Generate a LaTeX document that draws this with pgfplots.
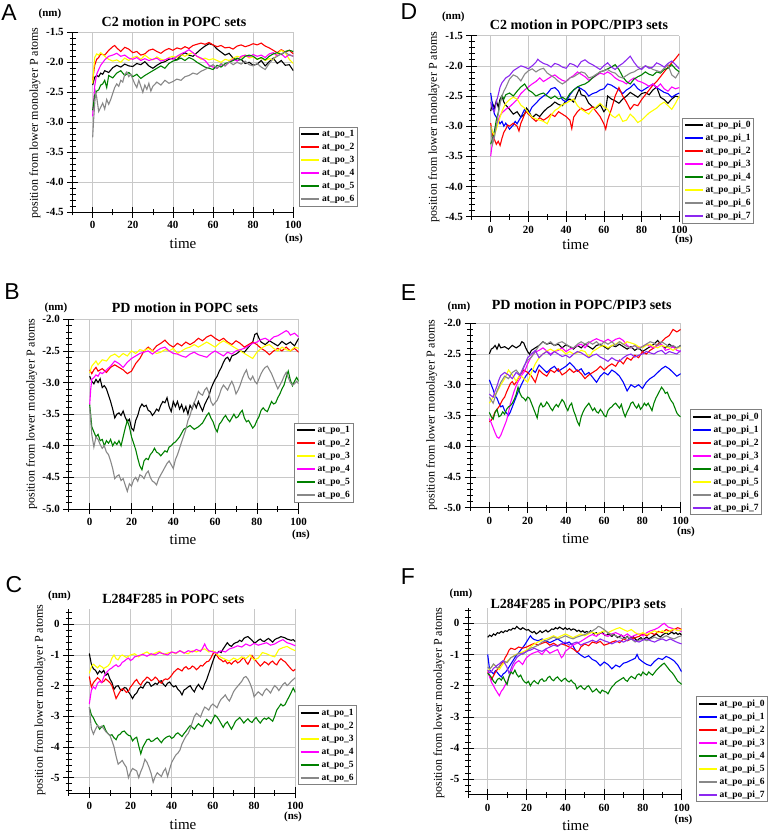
\documentclass[border=0pt]{standalone}
\usepackage{fontspec}
\setmainfont{Liberation Serif}
\newfontfamily\arialfont{Liberation Sans}
\usepackage{pgfplots}
\pgfplotsset{compat=1.18}
\definecolor{cblack}{RGB}{0,0,0}
\definecolor{cred}{RGB}{255,0,0}
\definecolor{cyel}{RGB}{255,255,0}
\definecolor{cmag}{RGB}{255,0,255}
\definecolor{cgreen}{RGB}{0,128,0}
\definecolor{cgray}{RGB}{136,136,136}
\definecolor{cblue}{RGB}{0,0,255}
\definecolor{cpurp}{RGB}{140,40,240}
\definecolor{gridc}{RGB}{200,200,200}
\pgfplotsset{
 panel/.style={
  scale only axis,
  xmin=-10, xmax=100,
  axis x line*=bottom, axis y line*=left,
  axis line style={-, line width=0.8pt, black},
  xtick={0,20,...,100},
  minor xtick={-10,10,30,50,70,90},
  tick align=center,
  major tick length=11pt, minor tick length=6pt,
  tick style={black, line width=0.7pt},
  grid=major,
  major grid style={gridc, line width=0.6pt},
  ticklabel style={font=\bfseries\fontsize{11}{11}\selectfont},
  /pgf/number format/assume math mode=true,
  every axis plot/.append style={line width=1.1pt},
  legend cell align=left,
  legend image code/.code={\draw[##1, line width=1.7pt] (0pt,0pt) -- (18pt,0pt);},
  legend style={draw=gray, line width=0.6pt, fill=white,
    font=\bfseries\fontsize{9.5}{10}\selectfont,
    inner xsep=1.5pt, inner ysep=0.5pt, row sep=0pt, column sep=0.5pt,
    nodes={inner ysep=1pt, inner xsep=1.5pt, text height=8pt, text depth=3pt}},
 },
 dec/.style={yticklabel style={/pgf/number format/.cd, fixed, fixed zerofill, precision=1}},
}
\newcommand\ttl[1]{{\bfseries\fontsize{14}{14}\selectfont #1}}
\begin{document}
\begin{tikzpicture}[x=1pt,y=1pt]
\path[use as bounding box] (0,0) rectangle (771,833);

% ---------------- A ----------------
\begin{axis}[panel, dec, at={(72.6pt,620.7pt)}, anchor=south west, width=220.7pt, height=180pt,
 ymin=-4.5, ymax=-1.5, ytick={-4.5,-4,...,-1.5}, minor ytick={-4.4,-4.3,...,-1.6},
 legend style={at={(1.024,0.0328)}, anchor=south west}]
\addplot[cblack] coordinates {(0,-2.38)(1,-2.25)(2,-2.22)(3,-2.24)(4,-2.18)(5,-2.2)(6,-2.14)(8,-2.17)(10,-2.09)(12,-2.05)(14,-2.08)(16,-2.03)(18,-2.06)(20,-2.07)(22,-2.02)(24,-2.04)(26,-1.99)(28,-2.06)(30,-2.1)(32,-2.05)(34,-2.01)(36,-1.99)(38,-1.95)(40,-1.93)(42,-1.96)(44,-1.88)(46,-1.84)(48,-1.88)(50,-1.9)(52,-1.84)(54,-1.78)(56,-1.73)(58,-1.69)(60,-1.71)(62,-1.78)(64,-1.83)(66,-1.88)(68,-1.85)(70,-1.93)(72,-1.97)(74,-1.95)(76,-2.02)(78,-2.0)(80,-2.05)(82,-2.03)(84,-1.97)(86,-2.06)(88,-1.99)(90,-1.93)(92,-2.02)(94,-1.97)(96,-2.05)(98,-2.04)(100,-2.14)};
\addlegendentry{at\_po\_1}
\addplot[cred] coordinates {(0,-2.3)(1,-2.05)(2,-1.95)(3,-1.92)(4,-1.86)(6,-1.88)(8,-1.8)(10,-1.74)(11,-1.72)(12,-1.76)(14,-1.82)(16,-1.75)(18,-1.78)(20,-1.84)(22,-1.82)(24,-1.88)(26,-1.86)(28,-1.8)(30,-1.78)(32,-1.82)(34,-1.85)(36,-1.8)(38,-1.77)(40,-1.8)(42,-1.76)(44,-1.78)(46,-1.74)(48,-1.77)(50,-1.72)(52,-1.7)(54,-1.68)(56,-1.7)(58,-1.67)(60,-1.71)(62,-1.74)(64,-1.72)(66,-1.76)(68,-1.75)(70,-1.78)(72,-1.73)(74,-1.71)(76,-1.74)(78,-1.72)(80,-1.69)(82,-1.71)(84,-1.68)(86,-1.73)(88,-1.76)(90,-1.8)(92,-1.84)(94,-1.79)(96,-1.83)(98,-1.8)(100,-1.86)};
\addlegendentry{at\_po\_2}
\addplot[cyel] coordinates {(0,-2.35)(1,-1.92)(2,-1.86)(3,-1.88)(4,-1.84)(6,-1.9)(8,-1.95)(10,-1.98)(12,-1.96)(14,-2.0)(16,-1.93)(18,-1.97)(20,-1.92)(22,-1.9)(24,-1.95)(26,-1.88)(28,-1.93)(30,-1.96)(32,-1.91)(34,-1.95)(36,-1.97)(38,-1.92)(40,-1.9)(42,-1.92)(44,-1.87)(46,-1.9)(48,-1.86)(50,-1.84)(52,-1.9)(54,-1.95)(56,-1.93)(58,-1.96)(60,-1.94)(62,-1.97)(64,-2.0)(66,-1.95)(68,-1.97)(70,-1.93)(72,-1.9)(74,-1.92)(76,-1.88)(78,-1.93)(80,-1.91)(82,-1.95)(84,-1.93)(86,-1.97)(88,-1.94)(90,-1.96)(92,-1.86)(94,-1.8)(96,-1.84)(98,-1.95)(100,-2.02)};
\addlegendentry{at\_po\_3}
\addplot[cmag] coordinates {(0,-2.9)(1,-2.4)(2,-2.2)(3,-2.12)(4,-2.05)(6,-1.96)(8,-1.9)(10,-1.88)(12,-1.85)(14,-1.9)(16,-1.88)(18,-1.93)(20,-1.95)(22,-1.92)(24,-1.97)(26,-1.94)(28,-1.97)(30,-1.95)(32,-1.93)(34,-1.98)(36,-1.96)(38,-1.93)(40,-1.95)(42,-1.9)(44,-1.86)(46,-1.83)(48,-1.79)(50,-1.84)(52,-1.9)(54,-1.93)(56,-1.97)(58,-2.05)(60,-2.08)(62,-2.1)(64,-2.04)(66,-2.06)(68,-2.0)(70,-1.95)(72,-1.98)(74,-1.9)(76,-1.88)(78,-1.91)(80,-1.87)(82,-1.9)(84,-1.88)(86,-1.92)(88,-1.86)(90,-1.84)(92,-1.89)(94,-1.86)(96,-1.92)(98,-1.87)(100,-1.9)};
\addlegendentry{at\_po\_4}
\addplot[cgreen] coordinates {(0,-2.8)(1,-2.55)(2,-2.48)(3,-2.46)(4,-2.38)(5,-2.36)(6,-2.3)(7,-2.42)(8,-2.22)(10,-2.26)(12,-2.18)(14,-2.14)(16,-2.22)(18,-2.17)(20,-2.24)(22,-2.2)(24,-2.27)(26,-2.22)(28,-2.18)(30,-2.14)(32,-2.1)(34,-2.06)(36,-2.1)(38,-2.02)(40,-1.98)(42,-1.96)(44,-1.93)(46,-1.97)(48,-1.92)(50,-1.95)(52,-2.0)(54,-2.04)(56,-2.08)(58,-2.1)(60,-2.12)(62,-2.05)(64,-2.08)(66,-2.02)(68,-2.0)(70,-1.97)(72,-1.93)(74,-1.96)(76,-1.9)(78,-1.88)(80,-1.9)(82,-1.95)(84,-1.92)(86,-1.96)(88,-1.9)(90,-1.86)(92,-1.84)(94,-1.87)(96,-1.82)(98,-1.8)(100,-1.82)};
\addlegendentry{at\_po\_5}
\addplot[cgray] coordinates {(0,-3.25)(0.5,-2.95)(1,-2.7)(1.5,-2.5)(2,-2.58)(3,-2.82)(4,-2.75)(5,-2.68)(6,-2.78)(7,-2.62)(8,-2.7)(9,-2.62)(10,-2.52)(11,-2.42)(12,-2.36)(13,-2.4)(14,-2.3)(15,-2.33)(16,-2.2)(17,-2.16)(18,-2.24)(19,-2.2)(20,-2.28)(21,-2.36)(22,-2.42)(23,-2.3)(24,-2.4)(25,-2.5)(26,-2.38)(27,-2.45)(28,-2.35)(29,-2.48)(30,-2.4)(32,-2.33)(34,-2.38)(36,-2.3)(38,-2.35)(40,-2.32)(42,-2.28)(44,-2.3)(46,-2.24)(48,-2.22)(50,-2.18)(52,-2.2)(54,-2.15)(56,-2.12)(58,-2.08)(60,-2.04)(62,-2.1)(64,-2.02)(66,-2.06)(68,-1.99)(70,-2.04)(72,-2.0)(74,-2.03)(76,-1.98)(78,-2.04)(80,-2.06)(82,-2.02)(84,-2.08)(86,-2.12)(88,-2.02)(90,-1.94)(92,-1.9)(94,-1.86)(96,-1.83)(98,-1.88)(100,-1.9)};
\addlegendentry{at\_po\_6}
\end{axis}

% ---------------- D ----------------
\begin{axis}[panel, dec, at={(471.8pt,616.3pt)}, anchor=south west, width=207.5pt, height=181pt,
 ymin=-4.5, ymax=-1.5, ytick={-4.5,-4,...,-1.5}, minor ytick={-4.4,-4.3,...,-1.6},
 legend style={at={(1.014,-0.0372)}, anchor=south west}]
\addplot[cblack] coordinates {(0,-2.75)(1,-2.62)(2,-2.7)(3,-2.58)(4,-2.68)(5,-2.55)(6,-2.5)(7,-2.6)(8,-2.65)(10,-2.72)(12,-2.8)(14,-2.76)(16,-2.85)(18,-2.8)(19,-2.7)(20,-2.74)(22,-2.86)(24,-2.8)(26,-2.84)(28,-2.76)(30,-2.7)(32,-2.66)(34,-2.6)(36,-2.64)(38,-2.66)(40,-2.58)(42,-2.55)(44,-2.6)(46,-2.45)(47,-2.38)(48,-2.48)(50,-2.5)(52,-2.62)(54,-2.68)(56,-2.7)(58,-2.64)(60,-2.76)(61,-2.72)(62,-2.5)(64,-2.55)(66,-2.58)(68,-2.62)(70,-2.55)(72,-2.5)(74,-2.44)(76,-2.48)(78,-2.52)(80,-2.46)(82,-2.44)(84,-2.48)(86,-2.4)(88,-2.35)(90,-2.52)(92,-2.56)(94,-2.62)(96,-2.55)(98,-2.5)(100,-2.52)};
\addlegendentry{at\_po\_pi\_0}
\addplot[cblue] coordinates {(0,-2.45)(1,-2.65)(2,-2.8)(4,-2.9)(5,-2.96)(6,-2.92)(7,-3.0)(8,-2.95)(10,-3.05)(12,-2.98)(13,-2.92)(14,-2.96)(16,-2.85)(18,-2.72)(20,-2.8)(22,-2.68)(24,-2.62)(26,-2.55)(28,-2.5)(30,-2.46)(32,-2.38)(34,-2.36)(36,-2.42)(38,-2.56)(40,-2.6)(42,-2.48)(44,-2.4)(46,-2.35)(48,-2.38)(50,-2.42)(52,-2.5)(54,-2.46)(56,-2.44)(58,-2.4)(60,-2.38)(62,-2.3)(64,-2.32)(66,-2.36)(68,-2.4)(70,-2.46)(72,-2.4)(74,-2.36)(76,-2.3)(78,-2.38)(80,-2.42)(82,-2.38)(84,-2.34)(86,-2.3)(88,-2.36)(90,-2.4)(92,-2.44)(94,-2.46)(96,-2.52)(98,-2.48)(100,-2.45)};
\addlegendentry{at\_po\_pi\_1}
\addplot[cred] coordinates {(0,-2.95)(1,-3.15)(2,-3.22)(3,-3.3)(4,-3.25)(5,-3.32)(6,-3.2)(7,-3.1)(8,-3.05)(9,-2.98)(10,-3.0)(12,-2.95)(14,-3.0)(15,-3.08)(16,-2.95)(17,-2.88)(18,-2.8)(19,-2.75)(20,-2.8)(22,-2.86)(24,-2.92)(26,-2.86)(28,-2.9)(30,-2.86)(32,-2.8)(34,-2.84)(36,-2.76)(38,-2.8)(40,-2.84)(42,-2.9)(43,-3.04)(44,-2.85)(46,-2.76)(48,-2.7)(50,-2.74)(52,-2.72)(54,-2.68)(56,-2.76)(58,-2.84)(60,-2.96)(61,-3.05)(62,-2.9)(64,-2.72)(66,-2.5)(68,-2.36)(70,-2.5)(72,-2.6)(74,-2.72)(76,-2.64)(78,-2.66)(80,-2.56)(82,-2.48)(84,-2.4)(86,-2.32)(88,-2.26)(90,-2.18)(92,-2.1)(94,-2.02)(96,-1.95)(98,-1.88)(100,-1.8)};
\addlegendentry{at\_po\_pi\_2}
\addplot[cmag] coordinates {(0,-3.5)(1,-3.25)(2,-3.1)(3,-2.98)(4,-2.9)(5,-2.82)(6,-2.78)(8,-2.72)(10,-2.68)(12,-2.62)(14,-2.56)(16,-2.46)(18,-2.4)(20,-2.35)(22,-2.3)(24,-2.26)(26,-2.2)(28,-2.26)(30,-2.22)(32,-2.18)(34,-2.15)(36,-2.2)(38,-2.24)(40,-2.26)(42,-2.2)(44,-2.16)(46,-2.1)(48,-2.14)(50,-2.18)(52,-2.24)(54,-2.2)(56,-2.16)(58,-2.12)(60,-2.14)(62,-2.1)(64,-2.14)(66,-2.2)(68,-2.24)(70,-2.26)(72,-2.3)(74,-2.24)(76,-2.2)(78,-2.25)(80,-2.27)(82,-2.3)(84,-2.34)(86,-2.3)(88,-2.36)(90,-2.3)(92,-2.38)(94,-2.42)(96,-2.35)(98,-2.38)(100,-2.36)};
\addlegendentry{at\_po\_pi\_3}
\addplot[cgreen] coordinates {(0,-3.3)(1,-3.2)(2,-3.08)(3,-2.9)(4,-2.78)(5,-2.6)(6,-2.5)(7,-2.55)(8,-2.48)(10,-2.45)(12,-2.5)(14,-2.42)(16,-2.35)(18,-2.3)(20,-2.4)(22,-2.44)(24,-2.5)(26,-2.47)(28,-2.45)(30,-2.5)(32,-2.54)(34,-2.5)(36,-2.55)(38,-2.52)(40,-2.56)(42,-2.46)(44,-2.4)(46,-2.35)(48,-2.32)(50,-2.3)(52,-2.26)(54,-2.2)(56,-2.15)(58,-2.1)(60,-2.08)(62,-2.05)(64,-2.02)(66,-1.98)(68,-2.06)(70,-2.18)(72,-2.26)(74,-2.3)(76,-2.22)(78,-2.18)(80,-2.15)(82,-2.1)(84,-2.14)(86,-2.16)(88,-2.1)(90,-2.12)(92,-2.06)(94,-2.04)(96,-1.98)(98,-2.05)(100,-2.1)};
\addlegendentry{at\_po\_pi\_4}
\addplot[cyel] coordinates {(0,-3.0)(1,-3.1)(2,-3.15)(3,-3.05)(4,-2.95)(5,-2.85)(6,-2.75)(8,-2.62)(10,-2.56)(12,-2.52)(14,-2.55)(16,-2.65)(18,-2.7)(20,-2.78)(22,-2.85)(24,-2.88)(26,-2.9)(28,-2.92)(30,-2.96)(32,-2.82)(34,-2.74)(36,-2.7)(38,-2.64)(40,-2.62)(42,-2.58)(44,-2.55)(46,-2.66)(48,-2.72)(50,-2.76)(52,-2.8)(54,-2.72)(56,-2.68)(58,-2.62)(60,-2.68)(62,-2.72)(64,-2.82)(66,-2.86)(68,-2.8)(70,-2.92)(72,-2.9)(74,-2.8)(76,-2.86)(78,-2.94)(80,-2.9)(82,-2.84)(84,-2.78)(86,-2.74)(88,-2.7)(90,-2.64)(92,-2.6)(94,-2.66)(96,-2.72)(98,-2.62)(100,-2.5)};
\addlegendentry{at\_po\_pi\_5}
\addplot[cgray] coordinates {(0,-3.0)(1,-3.3)(2,-3.18)(3,-3.0)(4,-2.8)(5,-2.62)(6,-2.5)(7,-2.42)(8,-2.36)(10,-2.22)(12,-2.15)(14,-2.18)(16,-2.25)(18,-2.14)(20,-2.08)(22,-2.05)(24,-2.1)(26,-2.06)(28,-2.04)(30,-2.12)(32,-2.16)(34,-2.2)(36,-2.26)(38,-2.3)(40,-2.26)(42,-2.2)(44,-2.18)(46,-2.14)(48,-2.1)(50,-2.12)(52,-2.2)(54,-2.18)(56,-2.14)(58,-2.1)(60,-2.08)(62,-2.06)(64,-2.1)(66,-2.12)(68,-2.18)(70,-2.2)(72,-2.16)(74,-2.12)(76,-2.1)(78,-2.06)(80,-2.04)(82,-2.0)(84,-2.02)(86,-2.06)(88,-2.08)(90,-2.1)(92,-2.04)(94,-1.98)(96,-2.15)(98,-2.2)(100,-2.1)};
\addlegendentry{at\_po\_pi\_6}
\addplot[cpurp] coordinates {(0,-2.6)(1,-2.72)(2,-2.76)(3,-2.6)(4,-2.48)(5,-2.35)(6,-2.28)(7,-2.24)(8,-2.2)(10,-2.16)(12,-2.08)(14,-2.04)(16,-2.0)(18,-2.02)(20,-2.05)(22,-2.0)(24,-1.94)(25,-1.89)(26,-1.92)(28,-1.96)(30,-1.98)(32,-2.02)(34,-1.96)(36,-1.98)(38,-2.02)(40,-2.04)(42,-1.96)(44,-1.98)(46,-2.02)(48,-1.93)(50,-1.9)(52,-1.95)(54,-1.98)(56,-2.02)(58,-2.06)(60,-2.0)(62,-1.95)(64,-2.02)(66,-2.06)(68,-2.0)(70,-1.96)(72,-1.9)(74,-1.84)(76,-1.94)(78,-2.02)(80,-2.06)(82,-2.0)(84,-2.04)(86,-2.02)(88,-1.95)(90,-1.98)(92,-2.02)(94,-1.96)(96,-1.92)(98,-1.98)(100,-2.05)};
\addlegendentry{at\_po\_pi\_7}
\end{axis}

% ---------------- B ----------------
\begin{axis}[panel, dec, at={(68.8pt,324pt)}, anchor=south west, width=229.9pt, height=189.7pt,
 ymin=-5, ymax=-2, ytick={-5,-4.5,...,-2}, minor ytick={-4.9,-4.8,...,-2.1},
 legend style={at={(0.98,0.0346)}, anchor=south west}]
\addplot[cblack] coordinates {(0,-2.9)(1,-2.98)(2,-3.02)(3,-2.95)(4,-3.0)(5,-2.94)(6,-3.08)(7,-3.05)(8,-3.1)(9,-3.2)(10,-3.3)(11,-3.42)(12,-3.56)(13,-3.5)(14,-3.48)(15,-3.52)(16,-3.45)(17,-3.55)(18,-3.62)(19,-3.58)(20,-3.72)(21,-3.76)(22,-3.6)(23,-3.52)(24,-3.4)(25,-3.34)(26,-3.38)(27,-3.36)(28,-3.44)(29,-3.46)(30,-3.52)(31,-3.48)(32,-3.42)(33,-3.45)(34,-3.36)(35,-3.3)(36,-3.32)(37,-3.24)(38,-3.38)(39,-3.46)(40,-3.3)(41,-3.38)(42,-3.3)(43,-3.42)(44,-3.35)(45,-3.46)(46,-3.38)(47,-3.5)(48,-3.36)(49,-3.42)(50,-3.32)(51,-3.4)(52,-3.3)(53,-3.38)(54,-3.45)(55,-3.35)(56,-3.28)(57,-3.22)(58,-3.1)(59,-3.02)(60,-2.95)(61,-2.9)(62,-2.82)(63,-2.76)(64,-2.68)(65,-2.62)(66,-2.6)(67,-2.66)(68,-2.58)(70,-2.55)(72,-2.5)(74,-2.52)(76,-2.44)(78,-2.36)(79,-2.24)(80,-2.22)(81,-2.3)(82,-2.36)(84,-2.4)(86,-2.34)(88,-2.38)(90,-2.42)(92,-2.35)(94,-2.4)(96,-2.36)(98,-2.42)(100,-2.3)};
\addlegendentry{at\_po\_1}
\addplot[cred] coordinates {(0,-2.8)(1,-2.86)(2,-2.8)(3,-2.76)(4,-2.82)(6,-2.78)(8,-2.84)(10,-2.76)(12,-2.72)(14,-2.76)(16,-2.8)(18,-2.86)(20,-2.82)(22,-2.7)(24,-2.62)(26,-2.5)(28,-2.44)(30,-2.5)(32,-2.42)(34,-2.38)(36,-2.33)(38,-2.4)(40,-2.44)(42,-2.38)(44,-2.42)(46,-2.36)(48,-2.4)(50,-2.36)(52,-2.3)(54,-2.34)(56,-2.28)(58,-2.25)(60,-2.3)(62,-2.34)(64,-2.3)(66,-2.36)(68,-2.4)(70,-2.34)(72,-2.38)(74,-2.44)(76,-2.4)(78,-2.36)(80,-2.4)(82,-2.46)(84,-2.5)(86,-2.56)(88,-2.5)(90,-2.46)(92,-2.5)(94,-2.44)(96,-2.5)(98,-2.46)(100,-2.52)};
\addlegendentry{at\_po\_2}
\addplot[cyel] coordinates {(0,-2.85)(1,-2.74)(2,-2.7)(3,-2.66)(4,-2.72)(6,-2.64)(8,-2.66)(10,-2.58)(12,-2.55)(14,-2.6)(16,-2.54)(18,-2.58)(20,-2.5)(22,-2.54)(24,-2.48)(26,-2.5)(28,-2.46)(30,-2.5)(32,-2.54)(34,-2.52)(36,-2.48)(38,-2.5)(40,-2.46)(42,-2.54)(44,-2.5)(46,-2.46)(48,-2.44)(50,-2.4)(52,-2.44)(54,-2.4)(56,-2.36)(58,-2.4)(60,-2.44)(62,-2.38)(64,-2.34)(66,-2.38)(68,-2.42)(70,-2.46)(72,-2.5)(74,-2.54)(76,-2.58)(78,-2.62)(80,-2.52)(82,-2.46)(84,-2.42)(86,-2.4)(88,-2.46)(90,-2.5)(92,-2.44)(94,-2.48)(96,-2.5)(98,-2.44)(100,-2.46)};
\addlegendentry{at\_po\_3}
\addplot[cmag] coordinates {(0,-3.35)(0.5,-3.1)(1,-2.95)(2,-2.92)(3,-2.88)(4,-2.9)(5,-2.84)(6,-2.86)(8,-2.8)(10,-2.74)(12,-2.66)(14,-2.7)(16,-2.76)(18,-2.68)(20,-2.62)(22,-2.58)(24,-2.54)(26,-2.52)(28,-2.5)(30,-2.55)(32,-2.5)(34,-2.46)(36,-2.44)(38,-2.5)(40,-2.54)(42,-2.55)(44,-2.58)(46,-2.6)(48,-2.55)(50,-2.52)(52,-2.56)(54,-2.58)(56,-2.6)(58,-2.54)(60,-2.5)(62,-2.54)(64,-2.58)(66,-2.52)(68,-2.55)(70,-2.5)(72,-2.48)(74,-2.46)(76,-2.42)(78,-2.38)(80,-2.36)(82,-2.32)(84,-2.3)(86,-2.34)(88,-2.28)(90,-2.26)(92,-2.22)(94,-2.18)(95,-2.2)(96,-2.25)(98,-2.22)(100,-2.28)};
\addlegendentry{at\_po\_4}
\addplot[cgreen] coordinates {(0,-3.35)(1,-3.7)(2,-3.78)(3,-3.86)(4,-3.82)(5,-3.92)(6,-3.9)(7,-4.0)(8,-3.92)(9,-3.96)(10,-3.9)(11,-4.0)(12,-3.94)(13,-3.98)(14,-3.92)(15,-4.0)(16,-3.86)(17,-3.72)(18,-3.6)(19,-3.7)(20,-3.86)(21,-3.96)(22,-4.06)(23,-4.2)(24,-4.32)(25,-4.38)(26,-4.24)(27,-4.2)(28,-4.22)(29,-4.14)(30,-4.1)(31,-4.04)(32,-4.1)(33,-4.12)(34,-4.16)(35,-4.12)(36,-4.08)(37,-4.1)(38,-4.02)(39,-4.0)(40,-3.96)(41,-3.94)(42,-3.9)(43,-3.86)(44,-3.8)(45,-3.74)(46,-3.72)(48,-3.68)(50,-3.74)(52,-3.7)(54,-3.64)(55,-3.58)(56,-3.52)(57,-3.48)(58,-3.56)(59,-3.62)(60,-3.72)(61,-3.78)(62,-3.66)(63,-3.62)(64,-3.56)(65,-3.52)(66,-3.58)(67,-3.62)(68,-3.56)(69,-3.5)(70,-3.56)(71,-3.54)(72,-3.48)(73,-3.44)(74,-3.56)(75,-3.62)(76,-3.6)(77,-3.66)(78,-3.72)(79,-3.68)(80,-3.6)(81,-3.54)(82,-3.44)(83,-3.4)(84,-3.44)(85,-3.46)(86,-3.38)(87,-3.3)(88,-3.34)(89,-3.32)(90,-3.24)(91,-3.18)(92,-3.1)(93,-3.04)(94,-2.92)(95,-2.82)(96,-2.96)(97,-3.05)(98,-2.98)(99,-2.92)(100,-2.98)};
\addlegendentry{at\_po\_5}
\addplot[cgray] coordinates {(0,-3.4)(1,-3.82)(2,-4.02)(3,-3.86)(4,-3.9)(5,-3.98)(6,-4.04)(7,-4.0)(8,-4.1)(9,-4.14)(10,-4.24)(11,-4.36)(12,-4.52)(13,-4.48)(14,-4.46)(15,-4.55)(16,-4.52)(17,-4.62)(18,-4.72)(19,-4.6)(20,-4.64)(21,-4.54)(22,-4.5)(23,-4.56)(24,-4.46)(25,-4.48)(26,-4.52)(27,-4.44)(28,-4.4)(29,-4.5)(30,-4.56)(31,-4.58)(32,-4.62)(33,-4.52)(34,-4.46)(35,-4.4)(36,-4.34)(37,-4.28)(38,-4.24)(39,-4.3)(40,-4.36)(41,-4.22)(42,-4.14)(43,-4.04)(44,-3.94)(45,-3.84)(46,-3.74)(47,-3.6)(48,-3.52)(49,-3.4)(50,-3.32)(51,-3.24)(52,-3.14)(53,-3.18)(54,-3.2)(55,-3.12)(56,-3.08)(57,-3.16)(58,-3.3)(59,-3.36)(60,-3.32)(61,-3.28)(62,-3.2)(63,-3.1)(64,-3.04)(65,-3.08)(66,-3.12)(67,-3.04)(68,-2.98)(69,-3.06)(70,-3.18)(71,-3.12)(72,-3.04)(73,-2.94)(74,-2.86)(75,-2.8)(76,-2.92)(77,-2.96)(78,-2.9)(79,-2.98)(80,-3.02)(81,-2.94)(82,-2.86)(83,-2.8)(84,-2.76)(85,-2.74)(86,-2.8)(87,-2.86)(88,-2.94)(89,-3.02)(90,-3.1)(91,-3.04)(92,-2.98)(93,-2.9)(94,-2.84)(95,-2.92)(96,-3.0)(97,-3.04)(98,-3.02)(99,-2.98)(100,-3.02)};
\addlegendentry{at\_po\_6}
\end{axis}

% ---------------- E ----------------
\begin{axis}[panel, dec, at={(470.2pt,325.3pt)}, anchor=south west, width=210.5pt, height=184.4pt,
 ymin=-5, ymax=-2, ytick={-5,-4.5,...,-2}, minor ytick={-4.9,-4.8,...,-2.1},
 legend style={at={(1.045,-0.04)}, anchor=south west}]
\addplot[cblack] coordinates {(0,-2.5)(1,-2.42)(2,-2.4)(3,-2.36)(4,-2.42)(5,-2.34)(6,-2.4)(8,-2.38)(10,-2.42)(12,-2.36)(14,-2.4)(16,-2.36)(17,-2.3)(18,-2.32)(19,-2.4)(20,-2.46)(21,-2.5)(22,-2.44)(24,-2.4)(26,-2.36)(28,-2.3)(30,-2.34)(32,-2.32)(34,-2.36)(36,-2.34)(38,-2.4)(40,-2.35)(42,-2.38)(44,-2.42)(46,-2.36)(48,-2.4)(50,-2.34)(52,-2.38)(54,-2.42)(56,-2.36)(58,-2.34)(60,-2.38)(62,-2.42)(64,-2.36)(66,-2.38)(68,-2.34)(70,-2.38)(72,-2.42)(74,-2.38)(76,-2.44)(78,-2.4)(80,-2.46)(82,-2.42)(84,-2.38)(86,-2.34)(88,-2.28)(90,-2.36)(92,-2.4)(94,-2.34)(96,-2.38)(98,-2.4)(100,-2.36)};
\addlegendentry{at\_po\_pi\_0}
\addplot[cblue] coordinates {(0,-2.92)(1,-3.0)(2,-3.08)(3,-3.18)(4,-3.22)(5,-3.3)(6,-3.36)(7,-3.34)(8,-3.42)(9,-3.46)(10,-3.5)(11,-3.44)(12,-3.36)(13,-3.28)(14,-3.2)(15,-3.12)(16,-3.05)(17,-2.98)(18,-2.92)(19,-2.86)(20,-2.82)(22,-2.74)(24,-2.8)(26,-2.68)(28,-2.74)(30,-2.8)(32,-2.74)(34,-2.7)(36,-2.78)(38,-2.74)(40,-2.7)(42,-2.64)(44,-2.7)(46,-2.78)(48,-2.74)(50,-2.84)(52,-2.8)(54,-2.88)(56,-2.96)(58,-2.86)(60,-2.8)(62,-2.84)(64,-2.76)(66,-2.8)(68,-2.86)(70,-2.96)(72,-3.1)(74,-3.0)(76,-3.04)(78,-3.0)(80,-3.06)(82,-2.96)(84,-2.9)(86,-2.86)(88,-2.8)(90,-2.74)(92,-2.7)(94,-2.74)(96,-2.8)(98,-2.86)(100,-2.82)};
\addlegendentry{at\_po\_pi\_1}
\addplot[cred] coordinates {(0,-3.6)(1,-3.58)(2,-3.52)(3,-3.44)(4,-3.4)(5,-3.36)(6,-3.3)(7,-3.24)(8,-3.2)(9,-3.12)(10,-3.05)(11,-2.98)(12,-2.95)(13,-3.0)(14,-2.96)(15,-2.9)(16,-2.84)(18,-2.76)(20,-2.8)(22,-2.86)(24,-2.96)(26,-2.76)(28,-2.82)(30,-2.86)(32,-2.76)(34,-2.8)(36,-2.74)(38,-2.84)(40,-2.8)(42,-2.74)(44,-2.8)(46,-2.76)(48,-2.82)(50,-2.9)(52,-2.84)(54,-2.8)(56,-2.76)(58,-2.7)(60,-2.76)(62,-2.7)(64,-2.66)(66,-2.7)(68,-2.6)(70,-2.66)(72,-2.56)(74,-2.6)(76,-2.52)(78,-2.56)(80,-2.46)(82,-2.5)(84,-2.44)(86,-2.4)(88,-2.34)(90,-2.3)(92,-2.24)(94,-2.2)(96,-2.1)(98,-2.14)(100,-2.1)};
\addlegendentry{at\_po\_pi\_2}
\addplot[cmag] coordinates {(0,-3.55)(1,-3.62)(2,-3.7)(3,-3.78)(4,-3.85)(5,-3.87)(6,-3.82)(7,-3.74)(8,-3.66)(9,-3.58)(10,-3.45)(11,-3.3)(12,-3.2)(13,-3.1)(14,-3.02)(15,-2.95)(16,-2.9)(17,-2.84)(18,-2.8)(19,-2.74)(20,-2.66)(21,-2.6)(22,-2.54)(23,-2.5)(24,-2.47)(26,-2.44)(28,-2.4)(30,-2.45)(32,-2.5)(34,-2.46)(36,-2.44)(38,-2.4)(40,-2.46)(42,-2.42)(44,-2.4)(46,-2.36)(48,-2.34)(50,-2.4)(52,-2.32)(54,-2.28)(56,-2.25)(58,-2.28)(60,-2.3)(62,-2.26)(64,-2.3)(66,-2.26)(68,-2.24)(70,-2.28)(72,-2.36)(74,-2.4)(76,-2.36)(78,-2.4)(80,-2.38)(82,-2.34)(84,-2.38)(86,-2.4)(88,-2.36)(90,-2.34)(92,-2.44)(94,-2.42)(96,-2.38)(98,-2.44)(100,-2.46)};
\addlegendentry{at\_po\_pi\_3}
\addplot[cgreen] coordinates {(0,-3.45)(1,-3.52)(2,-3.56)(3,-3.45)(4,-3.4)(5,-3.52)(6,-3.5)(7,-3.44)(8,-3.48)(9,-3.4)(10,-3.36)(11,-3.34)(12,-3.3)(13,-3.24)(14,-3.16)(15,-3.04)(16,-3.14)(17,-3.2)(18,-3.22)(19,-3.26)(20,-3.2)(21,-3.22)(22,-3.3)(23,-3.38)(24,-3.46)(25,-3.54)(26,-3.36)(27,-3.3)(28,-3.36)(29,-3.34)(30,-3.28)(31,-3.32)(32,-3.38)(33,-3.42)(34,-3.36)(35,-3.32)(36,-3.36)(37,-3.3)(38,-3.24)(39,-3.28)(40,-3.36)(41,-3.42)(42,-3.34)(43,-3.3)(44,-3.42)(45,-3.5)(46,-3.6)(47,-3.66)(48,-3.52)(49,-3.44)(50,-3.38)(51,-3.34)(52,-3.3)(53,-3.36)(54,-3.42)(55,-3.38)(56,-3.44)(57,-3.46)(58,-3.4)(59,-3.44)(60,-3.5)(61,-3.52)(62,-3.42)(63,-3.38)(64,-3.36)(65,-3.32)(66,-3.3)(67,-3.34)(68,-3.38)(69,-3.32)(70,-3.44)(71,-3.52)(72,-3.44)(73,-3.38)(74,-3.3)(75,-3.28)(76,-3.34)(77,-3.38)(78,-3.32)(79,-3.4)(80,-3.36)(81,-3.3)(82,-3.34)(83,-3.3)(84,-3.36)(85,-3.42)(86,-3.3)(87,-3.22)(88,-3.16)(89,-3.1)(90,-3.04)(91,-3.08)(92,-3.14)(93,-3.12)(94,-3.2)(95,-3.26)(96,-3.3)(97,-3.38)(98,-3.46)(99,-3.5)(100,-3.52)};
\addlegendentry{at\_po\_pi\_4}
\addplot[cyel] coordinates {(0,-3.3)(2,-3.2)(4,-3.12)(6,-3.0)(8,-2.9)(10,-2.76)(12,-2.84)(14,-2.94)(16,-2.84)(18,-2.9)(20,-2.96)(22,-2.8)(24,-2.66)(26,-2.56)(28,-2.5)(30,-2.45)(32,-2.42)(34,-2.46)(36,-2.42)(38,-2.44)(40,-2.5)(42,-2.46)(44,-2.5)(46,-2.48)(48,-2.44)(50,-2.46)(52,-2.55)(54,-2.46)(56,-2.42)(58,-2.38)(60,-2.36)(62,-2.4)(64,-2.36)(66,-2.34)(68,-2.3)(70,-2.34)(72,-2.3)(74,-2.32)(76,-2.34)(78,-2.38)(80,-2.4)(82,-2.36)(84,-2.34)(86,-2.38)(88,-2.4)(90,-2.36)(92,-2.38)(94,-2.4)(96,-2.44)(98,-2.4)(100,-2.4)};
\addlegendentry{at\_po\_pi\_5}
\addplot[cgray] coordinates {(0,-3.2)(2,-3.3)(4,-3.1)(6,-2.96)(8,-2.86)(10,-2.9)(12,-2.8)(14,-2.76)(16,-2.84)(18,-2.7)(20,-2.6)(22,-2.55)(24,-2.46)(26,-2.36)(28,-2.3)(30,-2.34)(32,-2.3)(34,-2.36)(36,-2.32)(38,-2.3)(40,-2.34)(42,-2.38)(44,-2.4)(46,-2.34)(48,-2.3)(50,-2.34)(52,-2.3)(54,-2.34)(56,-2.3)(58,-2.36)(60,-2.3)(62,-2.34)(64,-2.3)(66,-2.36)(68,-2.3)(70,-2.34)(72,-2.38)(74,-2.4)(76,-2.36)(78,-2.42)(80,-2.38)(82,-2.34)(84,-2.3)(86,-2.32)(88,-2.36)(90,-2.3)(92,-2.34)(94,-2.38)(96,-2.36)(98,-2.4)(100,-2.36)};
\addlegendentry{at\_po\_pi\_6}
\addplot[cpurp] coordinates {(0,-3.15)(1,-3.18)(2,-3.2)(3,-3.1)(4,-3.02)(5,-2.92)(6,-2.85)(8,-2.8)(10,-2.84)(12,-2.9)(14,-2.8)(16,-2.85)(18,-2.72)(20,-2.56)(22,-2.5)(24,-2.44)(26,-2.56)(28,-2.5)(30,-2.46)(32,-2.52)(34,-2.46)(36,-2.5)(38,-2.54)(40,-2.52)(42,-2.56)(44,-2.5)(46,-2.46)(48,-2.48)(50,-2.52)(52,-2.56)(54,-2.52)(56,-2.5)(58,-2.55)(60,-2.58)(62,-2.62)(64,-2.56)(66,-2.6)(68,-2.62)(70,-2.56)(72,-2.52)(74,-2.5)(76,-2.55)(78,-2.52)(80,-2.5)(82,-2.46)(84,-2.48)(86,-2.5)(88,-2.46)(90,-2.44)(92,-2.5)(94,-2.46)(96,-2.48)(98,-2.5)(100,-2.44)};
\addlegendentry{at\_po\_pi\_7}
\end{axis}

% ---------------- C ----------------
\begin{axis}[panel, at={(68.7pt,40pt)}, anchor=south west, width=226.6pt, height=184pt,
 ymin=-5.5, ymax=0.5, ytick={-5,-4,...,0}, minor ytick={-5.4,-5.2,...,0.4},
 legend style={at={(1.012,0.043)}, anchor=south west}]
\addplot[cblack] coordinates {(0,-0.95)(1,-1.3)(2,-1.45)(3,-1.5)(4,-1.62)(5,-1.52)(6,-1.58)(7,-1.5)(8,-1.66)(9,-1.6)(10,-1.78)(11,-1.9)(12,-2.12)(13,-2.02)(14,-2.0)(15,-2.12)(16,-2.16)(17,-2.06)(18,-2.08)(19,-2.2)(20,-2.3)(21,-2.42)(22,-2.3)(23,-2.24)(24,-2.1)(25,-2.04)(26,-2.08)(27,-1.96)(28,-1.88)(29,-1.9)(30,-2.02)(31,-1.98)(32,-1.92)(33,-1.96)(34,-1.86)(35,-1.84)(36,-1.96)(37,-2.02)(38,-1.92)(39,-1.88)(40,-1.98)(41,-2.04)(42,-2.0)(43,-2.12)(44,-2.18)(45,-2.3)(46,-2.14)(47,-2.1)(48,-2.04)(49,-2.0)(50,-2.12)(51,-2.2)(52,-2.05)(53,-1.96)(54,-2.06)(55,-2.12)(56,-1.94)(57,-1.8)(58,-1.6)(59,-1.4)(60,-1.2)(61,-1.02)(62,-0.94)(63,-0.88)(64,-0.92)(65,-0.8)(66,-0.7)(67,-0.6)(68,-0.68)(69,-0.72)(70,-0.64)(71,-0.6)(72,-0.58)(73,-0.52)(74,-0.56)(75,-0.46)(76,-0.42)(77,-0.4)(78,-0.46)(79,-0.52)(80,-0.6)(81,-0.58)(82,-0.52)(83,-0.48)(84,-0.54)(85,-0.56)(86,-0.5)(87,-0.46)(88,-0.52)(89,-0.58)(90,-0.5)(91,-0.46)(92,-0.44)(93,-0.4)(94,-0.42)(95,-0.44)(96,-0.48)(97,-0.5)(98,-0.52)(99,-0.5)(100,-0.56)};
\addlegendentry{at\_po\_1}
\addplot[cred] coordinates {(0,-1.7)(1,-2.05)(2,-1.9)(3,-1.82)(4,-1.74)(5,-1.8)(6,-1.9)(7,-1.86)(8,-1.78)(9,-1.84)(10,-1.9)(11,-2.0)(12,-2.2)(13,-2.42)(14,-2.3)(15,-2.18)(16,-2.1)(17,-2.14)(18,-2.22)(19,-2.18)(20,-2.04)(21,-1.96)(22,-1.86)(23,-1.8)(24,-1.92)(25,-1.98)(26,-1.86)(27,-1.8)(28,-1.72)(29,-1.76)(30,-1.84)(31,-1.8)(32,-1.72)(33,-1.78)(34,-1.88)(35,-1.92)(36,-1.82)(37,-1.78)(38,-1.8)(39,-1.74)(40,-1.66)(41,-1.56)(42,-1.5)(43,-1.44)(44,-1.48)(45,-1.52)(46,-1.42)(47,-1.38)(48,-1.46)(49,-1.44)(50,-1.36)(51,-1.4)(52,-1.48)(53,-1.42)(54,-1.34)(55,-1.36)(56,-1.28)(57,-1.22)(58,-1.2)(59,-1.1)(60,-0.96)(61,-0.9)(62,-1.02)(63,-1.12)(64,-1.16)(65,-1.22)(66,-1.18)(67,-1.28)(68,-1.24)(69,-1.3)(70,-1.22)(71,-1.18)(72,-1.26)(73,-1.22)(74,-1.14)(75,-1.08)(76,-1.22)(77,-1.3)(78,-1.18)(79,-1.02)(80,-1.12)(81,-1.2)(82,-1.28)(83,-1.36)(84,-1.3)(85,-1.22)(86,-1.26)(87,-1.32)(88,-1.24)(89,-1.2)(90,-1.28)(91,-1.32)(92,-1.2)(93,-1.12)(94,-1.18)(95,-1.22)(96,-1.3)(97,-1.38)(98,-1.46)(99,-1.52)(100,-1.46)};
\addlegendentry{at\_po\_2}
\addplot[cyel] coordinates {(0,-1.6)(1,-1.38)(2,-1.3)(3,-1.36)(4,-1.42)(5,-1.34)(6,-1.38)(7,-1.44)(8,-1.4)(9,-1.36)(10,-1.28)(11,-1.1)(12,-1.0)(13,-1.12)(14,-1.16)(15,-1.04)(16,-1.0)(18,-1.08)(20,-1.0)(22,-0.96)(24,-1.06)(26,-0.96)(28,-0.9)(30,-1.0)(32,-0.94)(34,-0.88)(36,-0.98)(38,-0.94)(40,-0.9)(42,-0.96)(44,-0.86)(46,-0.92)(48,-0.96)(50,-0.86)(52,-0.9)(54,-0.84)(56,-0.8)(58,-0.9)(60,-0.86)(62,-0.98)(64,-1.08)(66,-1.14)(68,-1.2)(70,-1.1)(72,-1.16)(74,-1.06)(76,-1.12)(78,-1.0)(80,-1.16)(82,-1.1)(84,-0.92)(86,-0.96)(88,-1.02)(90,-1.06)(92,-0.82)(94,-0.76)(96,-0.72)(98,-0.8)(100,-0.86)};
\addlegendentry{at\_po\_3}
\addplot[cmag] coordinates {(0,-2.6)(1,-2.15)(2,-2.04)(3,-2.1)(4,-1.92)(5,-1.86)(6,-1.9)(7,-1.72)(8,-1.6)(9,-1.52)(10,-1.46)(11,-1.42)(12,-1.36)(13,-1.32)(14,-1.38)(15,-1.34)(16,-1.24)(17,-1.2)(18,-1.14)(19,-1.1)(20,-1.18)(21,-1.14)(22,-1.06)(24,-1.02)(26,-0.98)(28,-1.04)(30,-0.96)(32,-1.0)(34,-0.92)(36,-0.96)(38,-1.0)(40,-0.9)(42,-0.94)(44,-0.86)(46,-0.94)(48,-0.86)(50,-0.9)(52,-0.82)(54,-0.88)(55,-0.78)(56,-0.64)(57,-0.78)(58,-0.86)(60,-0.9)(62,-0.94)(64,-0.86)(66,-0.9)(68,-0.8)(70,-0.76)(72,-0.7)(74,-0.74)(76,-0.64)(78,-0.7)(80,-0.62)(82,-0.68)(84,-0.64)(86,-0.6)(88,-0.68)(90,-0.64)(92,-0.56)(94,-0.5)(96,-0.6)(98,-0.64)(100,-0.7)};
\addlegendentry{at\_po\_4}
\addplot[cgreen] coordinates {(0,-2.7)(1,-2.95)(2,-3.05)(3,-3.2)(4,-3.3)(5,-3.42)(6,-3.34)(7,-3.3)(8,-3.46)(9,-3.56)(10,-3.62)(11,-3.6)(12,-3.7)(13,-3.76)(14,-3.62)(15,-3.58)(16,-3.5)(17,-3.48)(18,-3.56)(19,-3.62)(20,-3.64)(21,-3.8)(22,-3.72)(23,-3.68)(24,-3.96)(25,-4.22)(26,-4.0)(27,-3.88)(28,-3.76)(29,-3.74)(30,-3.82)(31,-3.8)(32,-3.74)(33,-3.7)(34,-3.78)(35,-3.86)(36,-3.76)(37,-3.7)(38,-3.66)(39,-3.64)(40,-3.72)(41,-3.68)(42,-3.58)(43,-3.54)(44,-3.6)(45,-3.66)(46,-3.56)(47,-3.48)(48,-3.38)(49,-3.3)(50,-3.36)(51,-3.42)(52,-3.32)(53,-3.24)(54,-3.3)(55,-3.34)(56,-3.2)(57,-3.1)(58,-3.16)(59,-3.24)(60,-3.1)(61,-2.96)(62,-3.02)(63,-3.12)(64,-3.24)(65,-3.36)(66,-3.24)(67,-3.18)(68,-3.3)(69,-3.42)(70,-3.3)(71,-3.16)(72,-3.1)(73,-3.04)(74,-3.12)(75,-3.22)(76,-3.14)(77,-3.08)(78,-3.16)(79,-3.2)(80,-3.1)(81,-3.04)(82,-3.14)(83,-3.22)(84,-3.12)(85,-3.06)(86,-3.1)(87,-3.04)(88,-3.1)(89,-3.16)(90,-3.0)(91,-2.8)(92,-2.7)(93,-2.6)(94,-2.66)(95,-2.62)(96,-2.48)(97,-2.36)(98,-2.22)(99,-2.08)(100,-2.22)};
\addlegendentry{at\_po\_5}
\addplot[cgray] coordinates {(0,-2.7)(1,-3.4)(2,-3.58)(3,-3.42)(4,-3.3)(5,-3.36)(6,-3.32)(7,-3.4)(8,-3.5)(9,-3.56)(10,-3.62)(11,-3.8)(12,-4.0)(13,-4.3)(14,-4.56)(15,-4.5)(16,-4.44)(17,-4.56)(18,-4.66)(19,-5.0)(20,-4.82)(21,-4.7)(22,-4.74)(23,-4.78)(24,-5.0)(25,-4.8)(26,-4.64)(27,-4.4)(28,-4.5)(29,-4.66)(30,-4.86)(31,-5.15)(32,-4.96)(33,-4.84)(34,-4.9)(35,-4.96)(36,-4.8)(37,-4.7)(38,-4.96)(39,-4.72)(40,-4.5)(41,-4.38)(42,-4.26)(43,-4.2)(44,-4.1)(45,-3.9)(46,-3.76)(47,-3.64)(48,-3.56)(49,-3.4)(50,-3.2)(51,-3.0)(52,-2.9)(53,-2.96)(54,-3.02)(55,-2.84)(56,-2.7)(57,-2.74)(58,-2.8)(59,-2.66)(60,-2.6)(61,-2.66)(62,-2.72)(63,-2.56)(64,-2.44)(65,-2.38)(66,-2.3)(67,-2.42)(68,-2.5)(69,-2.36)(70,-2.2)(71,-2.1)(72,-2.02)(73,-1.94)(74,-1.86)(75,-1.74)(76,-1.7)(77,-1.78)(78,-1.92)(79,-2.1)(80,-2.36)(81,-2.28)(82,-2.2)(83,-2.26)(84,-2.32)(85,-2.18)(86,-2.1)(87,-2.16)(88,-2.24)(89,-2.1)(90,-2.0)(91,-2.06)(92,-2.16)(93,-2.06)(94,-1.96)(95,-1.9)(96,-2.0)(97,-1.94)(98,-1.86)(99,-1.8)(100,-1.74)};
\addlegendentry{at\_po\_6}
\end{axis}

% ---------------- F ----------------
\begin{axis}[panel, at={(468.3pt,38.1pt)}, anchor=south west, width=213.4pt, height=187.2pt,
 ymin=-5.5, ymax=0.5, ytick={-5,-4,...,0}, minor ytick={-5.4,-5.2,...,0.4},
 legend style={at={(1.068,-0.038)}, anchor=south west}]
\addplot[cblack] coordinates {(0,-0.45)(1,-0.38)(2,-0.42)(3,-0.34)(4,-0.38)(5,-0.3)(6,-0.32)(7,-0.26)(8,-0.3)(9,-0.24)(10,-0.26)(11,-0.2)(12,-0.22)(13,-0.16)(14,-0.18)(15,-0.1)(16,-0.16)(17,-0.2)(18,-0.14)(19,-0.18)(20,-0.22)(21,-0.2)(22,-0.26)(23,-0.3)(24,-0.26)(25,-0.34)(26,-0.3)(27,-0.24)(28,-0.3)(29,-0.26)(30,-0.22)(31,-0.28)(32,-0.24)(33,-0.18)(34,-0.2)(35,-0.14)(36,-0.18)(37,-0.12)(38,-0.16)(39,-0.2)(40,-0.14)(41,-0.2)(42,-0.16)(43,-0.22)(44,-0.18)(45,-0.2)(46,-0.26)(47,-0.22)(48,-0.28)(49,-0.24)(50,-0.3)(51,-0.26)(52,-0.3)(53,-0.24)(54,-0.3)(55,-0.34)(56,-0.3)(57,-0.36)(58,-0.32)(59,-0.28)(60,-0.36)(61,-0.4)(62,-0.34)(63,-0.38)(64,-0.42)(65,-0.36)(66,-0.4)(67,-0.46)(68,-0.42)(69,-0.38)(70,-0.44)(71,-0.48)(72,-0.42)(73,-0.5)(74,-0.46)(75,-0.42)(76,-0.5)(77,-0.56)(78,-0.5)(79,-0.46)(80,-0.52)(81,-0.48)(82,-0.44)(83,-0.5)(84,-0.46)(85,-0.42)(86,-0.38)(87,-0.34)(88,-0.4)(89,-0.44)(90,-0.38)(91,-0.34)(92,-0.3)(93,-0.36)(94,-0.32)(95,-0.28)(96,-0.34)(97,-0.3)(98,-0.36)(99,-0.32)(100,-0.38)};
\addlegendentry{at\_po\_pi\_0}
\addplot[cblue] coordinates {(0,-1.0)(1,-1.5)(2,-1.56)(3,-1.62)(4,-1.52)(5,-1.58)(6,-1.66)(7,-1.72)(8,-1.62)(9,-1.58)(10,-1.5)(11,-1.4)(12,-1.3)(13,-1.2)(14,-1.1)(15,-1.02)(16,-0.94)(17,-0.86)(18,-0.78)(19,-0.7)(20,-0.6)(21,-0.5)(22,-0.4)(23,-0.48)(24,-0.52)(26,-0.56)(28,-0.5)(30,-0.56)(32,-0.62)(34,-0.56)(36,-0.5)(38,-0.58)(40,-0.66)(42,-0.6)(44,-0.72)(45,-0.84)(46,-0.92)(48,-1.02)(50,-1.1)(52,-1.04)(54,-1.16)(56,-1.22)(58,-1.36)(60,-1.24)(62,-1.32)(64,-1.46)(66,-1.34)(68,-1.4)(70,-1.28)(72,-1.24)(74,-1.18)(76,-1.12)(77,-1.0)(78,-1.14)(80,-1.24)(82,-1.32)(84,-1.36)(86,-1.22)(88,-1.12)(90,-1.16)(92,-1.06)(94,-1.12)(96,-1.2)(98,-1.34)(100,-1.56)};
\addlegendentry{at\_po\_pi\_1}
\addplot[cred] coordinates {(0,-1.55)(1,-1.7)(2,-1.8)(3,-1.68)(4,-1.56)(5,-1.48)(6,-1.4)(7,-1.3)(8,-1.24)(9,-1.1)(10,-1.0)(11,-0.86)(12,-0.8)(14,-0.84)(16,-0.76)(18,-0.8)(20,-0.76)(22,-0.7)(24,-0.64)(26,-0.7)(28,-0.64)(30,-0.6)(32,-0.7)(34,-0.64)(36,-0.72)(38,-0.66)(40,-0.7)(42,-0.76)(44,-0.82)(46,-0.92)(47,-0.88)(48,-0.76)(50,-0.66)(52,-0.72)(54,-0.6)(56,-0.64)(58,-0.58)(60,-0.7)(62,-0.66)(64,-0.6)(66,-0.56)(68,-0.62)(70,-0.5)(72,-0.56)(74,-0.5)(76,-0.46)(78,-0.42)(80,-0.34)(82,-0.4)(84,-0.3)(86,-0.36)(88,-0.26)(90,-0.3)(92,-0.2)(94,-0.26)(96,-0.2)(98,-0.14)(100,-0.2)};
\addlegendentry{at\_po\_pi\_2}
\addplot[cmag] coordinates {(0,-1.5)(1,-1.72)(2,-1.9)(3,-2.0)(4,-2.12)(5,-2.22)(6,-2.32)(7,-2.18)(8,-2.1)(9,-1.98)(10,-1.88)(11,-1.72)(12,-1.58)(13,-1.42)(14,-1.3)(15,-1.24)(16,-1.2)(17,-1.26)(18,-1.32)(19,-1.2)(20,-1.1)(22,-1.0)(24,-0.94)(26,-0.9)(28,-1.0)(30,-0.84)(32,-0.96)(34,-0.9)(36,-0.84)(38,-1.1)(39,-1.04)(40,-0.9)(42,-0.8)(44,-0.7)(46,-0.64)(48,-0.58)(50,-0.5)(52,-0.42)(54,-0.36)(56,-0.42)(58,-0.3)(60,-0.36)(62,-0.42)(64,-0.34)(66,-0.3)(68,-0.36)(70,-0.42)(72,-0.34)(74,-0.44)(76,-0.38)(78,-0.34)(80,-0.4)(82,-0.3)(84,-0.24)(86,-0.2)(88,-0.14)(90,-0.04)(91,0.0)(92,-0.06)(93,-0.12)(95,-0.16)(97,-0.2)(100,-0.26)};
\addlegendentry{at\_po\_pi\_3}
\addplot[cgreen] coordinates {(0,-1.6)(1,-1.66)(2,-1.74)(3,-1.86)(4,-1.92)(5,-1.8)(6,-1.76)(7,-1.82)(8,-1.72)(9,-1.86)(10,-1.96)(11,-1.7)(12,-1.56)(13,-1.62)(14,-1.5)(15,-1.64)(16,-1.72)(17,-1.66)(18,-1.8)(19,-1.88)(20,-1.92)(21,-1.86)(22,-2.0)(23,-1.9)(24,-1.84)(25,-1.9)(26,-1.94)(27,-1.82)(28,-1.78)(29,-1.86)(30,-1.84)(31,-1.74)(32,-1.7)(33,-1.8)(34,-1.84)(35,-1.76)(36,-1.72)(37,-1.8)(38,-1.86)(39,-1.8)(40,-1.76)(41,-1.84)(42,-1.88)(43,-1.82)(44,-1.9)(45,-1.94)(46,-2.1)(47,-2.04)(48,-2.0)(49,-2.08)(50,-2.12)(51,-2.04)(52,-2.0)(53,-2.1)(54,-2.2)(55,-2.16)(56,-2.1)(57,-2.18)(58,-2.24)(59,-2.14)(60,-2.18)(61,-2.2)(62,-2.26)(63,-2.14)(64,-2.04)(65,-1.98)(66,-1.9)(67,-1.86)(68,-1.82)(69,-1.78)(70,-1.74)(71,-1.82)(72,-1.86)(73,-1.76)(74,-1.7)(75,-1.74)(76,-1.78)(77,-1.66)(78,-1.62)(79,-1.68)(80,-1.56)(81,-1.62)(82,-1.66)(83,-1.56)(84,-1.62)(85,-1.66)(86,-1.58)(87,-1.5)(88,-1.44)(89,-1.38)(90,-1.32)(91,-1.28)(92,-1.36)(93,-1.44)(94,-1.52)(95,-1.58)(96,-1.66)(97,-1.76)(98,-1.86)(99,-1.9)(100,-1.96)};
\addlegendentry{at\_po\_pi\_4}
\addplot[cyel] coordinates {(0,-1.55)(1,-1.46)(2,-1.4)(3,-1.32)(4,-1.36)(5,-1.44)(6,-1.48)(7,-1.38)(8,-1.3)(10,-1.22)(12,-1.1)(14,-1.02)(16,-0.96)(18,-0.92)(20,-0.86)(22,-0.76)(24,-0.66)(26,-0.6)(28,-0.54)(30,-0.5)(32,-0.46)(34,-0.4)(36,-0.46)(38,-0.4)(40,-0.34)(42,-0.4)(44,-0.46)(46,-0.4)(48,-0.34)(50,-0.4)(52,-0.34)(54,-0.28)(56,-0.34)(58,-0.3)(60,-0.24)(62,-0.3)(64,-0.24)(66,-0.18)(68,-0.14)(70,-0.2)(72,-0.26)(74,-0.2)(76,-0.3)(78,-0.36)(80,-0.3)(82,-0.36)(84,-0.3)(86,-0.24)(88,-0.3)(90,-0.24)(92,-0.3)(94,-0.24)(96,-0.18)(98,-0.24)(100,-0.2)};
\addlegendentry{at\_po\_pi\_5}
\addplot[cgray] coordinates {(0,-1.4)(1,-1.46)(2,-1.4)(3,-1.3)(4,-1.36)(5,-1.44)(6,-1.38)(7,-1.26)(8,-1.2)(10,-1.26)(12,-1.1)(14,-1.04)(16,-0.96)(18,-1.0)(20,-0.9)(22,-0.8)(24,-0.76)(26,-0.7)(28,-0.6)(30,-0.56)(32,-0.5)(34,-0.44)(36,-0.5)(38,-0.46)(40,-0.4)(42,-0.46)(44,-0.5)(46,-0.44)(48,-0.4)(50,-0.36)(52,-0.3)(54,-0.24)(56,-0.16)(57,-0.1)(58,-0.12)(60,-0.2)(62,-0.3)(64,-0.36)(66,-0.4)(68,-0.46)(70,-0.5)(72,-0.44)(74,-0.5)(76,-0.6)(78,-0.54)(80,-0.5)(82,-0.56)(84,-0.5)(86,-0.44)(88,-0.5)(90,-0.46)(92,-0.4)(94,-0.46)(96,-0.5)(98,-0.44)(100,-0.4)};
\addlegendentry{at\_po\_pi\_6}
\addplot[cpurp] coordinates {(0,-1.5)(1,-1.58)(2,-1.54)(3,-1.44)(4,-1.4)(5,-1.34)(6,-1.3)(7,-1.24)(8,-1.2)(9,-1.3)(10,-1.42)(11,-1.6)(12,-1.46)(13,-1.3)(14,-1.2)(15,-1.1)(16,-1.04)(17,-1.0)(18,-0.96)(19,-0.94)(20,-0.9)(22,-0.86)(24,-0.8)(26,-0.86)(28,-0.9)(30,-0.82)(32,-0.76)(34,-0.7)(36,-0.74)(38,-0.66)(40,-0.6)(42,-0.7)(44,-0.64)(46,-0.6)(48,-0.7)(50,-0.64)(52,-0.6)(54,-0.54)(56,-0.6)(58,-0.5)(60,-0.56)(62,-0.6)(64,-0.66)(66,-0.6)(68,-0.56)(70,-0.6)(72,-0.54)(74,-0.5)(76,-0.56)(78,-0.6)(80,-0.54)(82,-0.5)(84,-0.56)(86,-0.6)(88,-0.54)(90,-0.5)(92,-0.56)(94,-0.5)(96,-0.56)(98,-0.62)(100,-0.66)};
\addlegendentry{at\_po\_pi\_7}
\end{axis}

% ---------------- texts ----------------
\tikzset{lett/.style={font=\arialfont\fontsize{23}{23}\selectfont},
 nm/.style={font=\bfseries\fontsize{11}{11}\selectfont},
 yl/.style={font=\fontsize{12}{12}\selectfont, rotate=90},
 tm/.style={font=\fontsize{15}{15}\selectfont}}
% A
\node[lett] at (9,820.5) {A};
\node[nm] at (50,819) {(nm)};
\node at (174,811) {\ttl{C2 motion in POPC sets}};
\node[yl] at (35,710) {position from lower monolayer P atoms};
\node[nm] at (294,594) {(ns)};
\node[tm] at (183,589) {time};
% D
\node[lett] at (409,821) {D};
\node[nm] at (453.3,816) {(nm)};
\node at (579,808) {\ttl{C2 motion in POPC/PIP3 sets}};
\node[yl] at (434,706) {position from lower monolayer P atoms};
\node[nm] at (684,593) {(ns)};
\node[tm] at (575.7,588) {time};
% B
\node[lett] at (12,541.3) {B};
\node[nm] at (56,525.3) {(nm)};
\node at (185,525.7) {\ttl{PD motion in POPC sets}};
\node[yl] at (31.7,419) {position from lower monolayer P atoms};
\node[nm] at (301,297.7) {(ns)};
\node[tm] at (183,293) {time};
% E
\node[lett] at (408.5,540.5) {E};
\node[nm] at (459,525.7) {(nm)};
\node at (581.7,528) {\ttl{PD motion in POPC/PIP3 sets}};
\node[yl] at (431.7,418) {position from lower monolayer P atoms};
\node[nm] at (686,301) {(ns)};
\node[tm] at (575.7,294) {time};
% C
\node[lett] at (14,248.5) {C};
\node[nm] at (59.5,237.5) {(nm)};
\node at (173.3,234) {\ttl{L284F285 in POPC sets}};
\node[yl] at (40,133) {position from lower monolayer P atoms};
\node[nm] at (293,16) {(ns)};
\node[tm] at (183,8) {time};
% F
\node[lett] at (408,256) {F};
\node[nm] at (461,238.7) {(nm)};
\node at (578.3,229.7) {\ttl{L284F285 in POPC/PIP3 sets}};
\node[yl] at (439,130) {position from lower monolayer P atoms};
\node[nm] at (683.5,13) {(ns)};
\node[tm] at (575.7,7) {time};
\end{tikzpicture}
\end{document}
